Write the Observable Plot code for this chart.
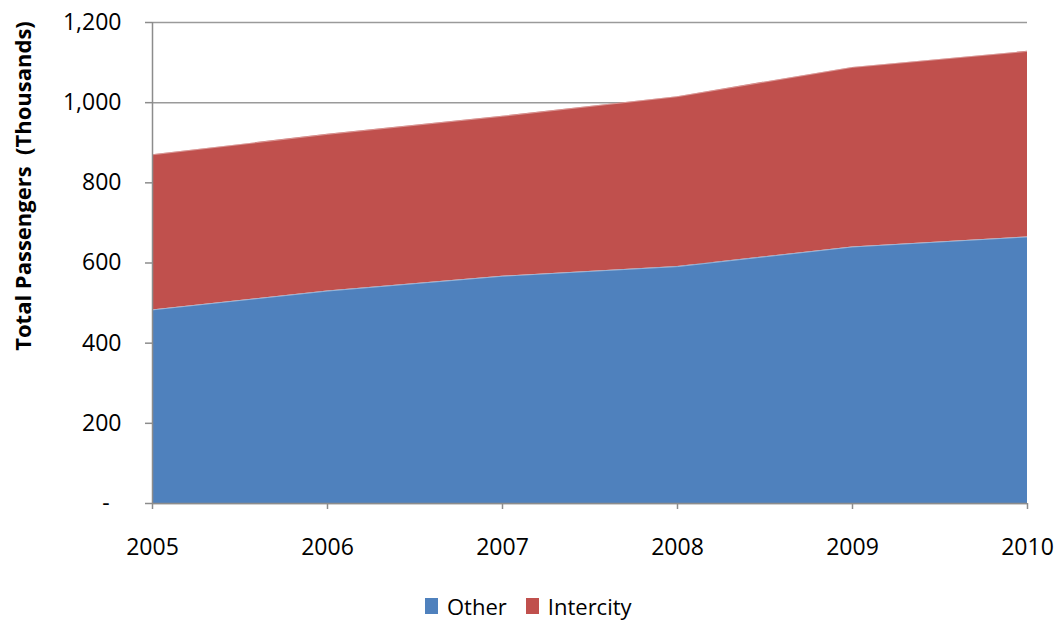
<!DOCTYPE html>
<html>
<head>
<meta charset="utf-8">
<script src="https://cdn.jsdelivr.net/npm/d3@7"></script>
<script src="https://cdn.jsdelivr.net/npm/@observablehq/plot@0.6"></script>
<style>
  html, body { margin: 0; padding: 0; background: #fff; }
  #chart { width: 1062px; }
  .lg-swatch > svg { margin-right: 9px !important; }
  .lg-swatch { margin-right: 19px !important; line-height: 1.2; }
</style>
</head>
<body>
<div id="chart"></div>
<script>
// Passenger totals by year, in thousands
const years = [2005, 2006, 2007, 2008, 2009, 2010];
const other = [483, 530, 567, 591, 640, 665];
const intercity = [387, 391, 399, 424, 448, 463];
const seriesNames = ["Other", "Intercity"];
const seriesColors = ["#4F81BD", "#C0504D"];
const yTicks = [0, 200, 400, 600, 800, 1000, 1200];
const yTitle = "Total Passengers\u00a0 (Thousands)";

// Long format; "Other" comes first so it sits at the bottom of the stack
const rows = years.flatMap((year, i) => [
  {year, series: "Other", value: other[i]},
  {year, series: "Intercity", value: intercity[i]}
]);

const font = "'Open Sans', sans-serif";
const axisGray = "#8c8c8c";

const chart = Plot.plot({
  width: 1062,
  height: 600,
  marginLeft: 152,
  marginRight: 35,
  marginTop: 22,
  marginBottom: 97,
  style: {fontFamily: font, fontSize: "23px", color: "#000", background: "#fff", overflow: "visible"},
  x: {domain: [2005, 2010], label: null},
  y: {domain: [0, 1200], label: null},
  color: {domain: seriesNames, range: seriesColors},
  marks: [
    Plot.gridY(yTicks, {stroke: "#9a9a9a", strokeOpacity: 1, strokeWidth: 1.5}),
    Plot.areaY(rows, {x: "year", y: "value", fill: "series", z: "series"}),
    // faint light edge along the top of each band
    Plot.lineY(rows, Plot.stackY2({x: "year", y: "value", z: "series", stroke: "#fff", strokeOpacity: 0.4, strokeWidth: 1})),
    Plot.ruleY([0], {stroke: axisGray, strokeWidth: 1.5}),
    Plot.ruleX([2005], {stroke: axisGray, strokeWidth: 1.5}),
    Plot.axisX({
      ticks: years,
      tickFormat: d => String(d),
      tickSize: 6,
      tickPadding: 29,
      stroke: axisGray,
      strokeWidth: 1.5,
      fill: "#000",
      label: null
    }),
    Plot.axisY({
      ticks: yTicks,
      tickFormat: d => d === 0 ? "-\u00a0\u00a0" : d3.format(",")(d),
      tickSize: 7,
      tickPadding: 24,
      stroke: axisGray,
      strokeWidth: 1.5,
      fill: "#000",
      label: null
    }),
    Plot.text([yTitle], {
      text: d => d,
      frameAnchor: "left",
      textAnchor: "middle",
      rotate: -90,
      dx: -129,
      dy: -77,
      fontWeight: "bold",
      fontSize: 22,
      fill: "#000"
    })
  ]
});

const legend = chart.legend("color", {
  className: "lg",
  swatchWidth: 13,
  swatchHeight: 16,
  style: {fontFamily: font, fontSize: "22px", color: "#000", marginLeft: "425px", marginTop: "-10px"}
});

const root = document.getElementById("chart");
root.append(chart);
root.append(legend);
</script>
</body>
</html>
